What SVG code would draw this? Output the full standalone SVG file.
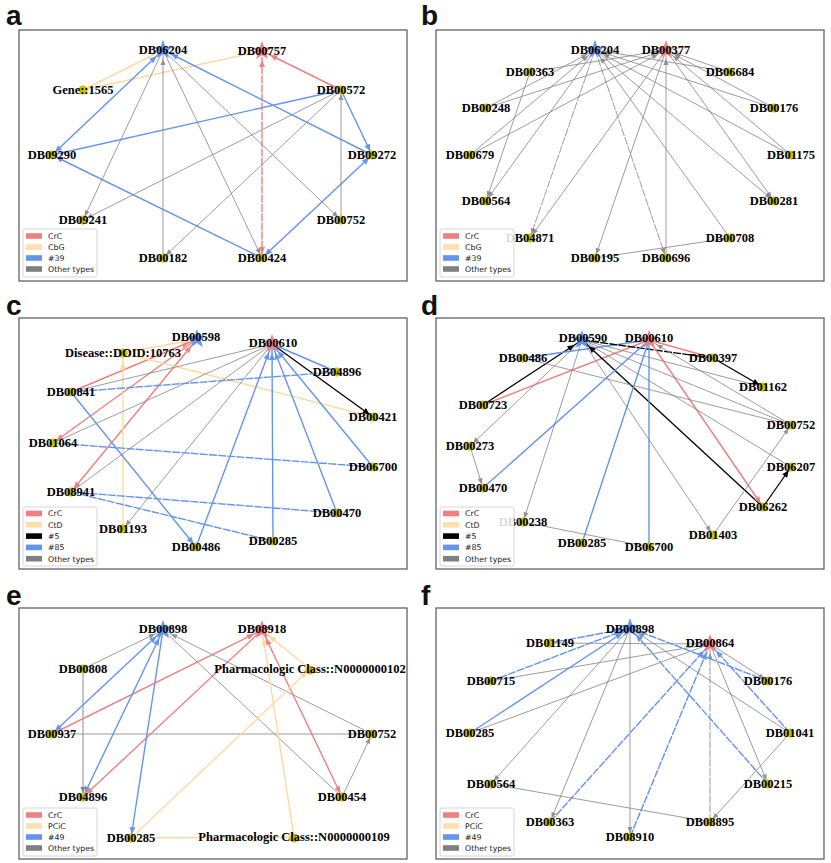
<svg xmlns="http://www.w3.org/2000/svg" width="831" height="863" viewBox="0 0 831 863">
<style>
.frame{fill:#fff;stroke:#555;stroke-width:1.2}
.pl{font-family:"Liberation Sans",Arial,sans-serif;font-weight:bold;font-size:28px;fill:#111}
.lb{font-family:"Liberation Serif","Times New Roman",serif;font-weight:bold;font-size:12.5px;text-anchor:middle;fill:#000}
.lg{font-family:"DejaVu Sans",sans-serif;font-size:7.8px;fill:#222}
.lgbox{fill:#fff;fill-opacity:0.85;stroke:#ccc;stroke-width:0.8}
.dot{fill:#c9c200}
.g{stroke:#808080;stroke-width:0.9;opacity:0.85}
.gl{stroke:#b8b8b8;stroke-width:1.6}
.r{stroke:#f08080;stroke-width:1.4}
.o{stroke:#ffd9a3;stroke-width:1.4}
.b{stroke:#6495ed;stroke-width:1.4}
.k{stroke:#000;stroke-width:1.3}
.dash{stroke-dasharray:8 1.2}
</style>
<defs>
<path id="star" d="M0,-10L2.35,-3.24L9.51,-3.09L3.8,1.24L5.88,8.09L0,4L-5.88,8.09L-3.8,1.24L-9.51,-3.09L-2.35,-3.24Z"/>
<marker id="gd" markerUnits="userSpaceOnUse" markerWidth="20" markerHeight="10" refX="10" refY="2.5" orient="auto-start-reverse" overflow="visible"><path d="M0,0L6,2.5L0,5z" fill="#808080"/></marker>
<marker id="gs" markerUnits="userSpaceOnUse" markerWidth="20" markerHeight="10" refX="15" refY="2.5" orient="auto-start-reverse" overflow="visible"><path d="M0,0L6,2.5L0,5z" fill="#808080"/></marker>
<marker id="rd" markerUnits="userSpaceOnUse" markerWidth="20" markerHeight="10" refX="11" refY="3" orient="auto-start-reverse" overflow="visible"><path d="M0,0L7,3L0,6z" fill="#f08080"/></marker>
<marker id="rs" markerUnits="userSpaceOnUse" markerWidth="20" markerHeight="10" refX="16" refY="3" orient="auto-start-reverse" overflow="visible"><path d="M0,0L7,3L0,6z" fill="#f08080"/></marker>
<marker id="bd" markerUnits="userSpaceOnUse" markerWidth="20" markerHeight="10" refX="11" refY="3" orient="auto-start-reverse" overflow="visible"><path d="M0,0L7,3L0,6z" fill="#6495ed"/></marker>
<marker id="bs" markerUnits="userSpaceOnUse" markerWidth="20" markerHeight="10" refX="16" refY="3" orient="auto-start-reverse" overflow="visible"><path d="M0,0L7,3L0,6z" fill="#6495ed"/></marker>
<marker id="od" markerUnits="userSpaceOnUse" markerWidth="20" markerHeight="10" refX="11" refY="3" orient="auto-start-reverse" overflow="visible"><path d="M0,0L7,3L0,6z" fill="#ffd9a3"/></marker>
<marker id="os" markerUnits="userSpaceOnUse" markerWidth="20" markerHeight="10" refX="16" refY="3" orient="auto-start-reverse" overflow="visible"><path d="M0,0L7,3L0,6z" fill="#ffd9a3"/></marker>
<marker id="kd" markerUnits="userSpaceOnUse" markerWidth="20" markerHeight="10" refX="11" refY="3" orient="auto-start-reverse" overflow="visible"><path d="M0,0L7,3L0,6z" fill="#000"/></marker>
<marker id="ks" markerUnits="userSpaceOnUse" markerWidth="20" markerHeight="10" refX="16" refY="3" orient="auto-start-reverse" overflow="visible"><path d="M0,0L7,3L0,6z" fill="#000"/></marker>
</defs>

<g id="panel-labels">
<text class="pl" x="6" y="25">a</text>
<text class="pl" x="421" y="25">b</text>
<text class="pl" x="6" y="315">c</text>
<text class="pl" x="421" y="315">d</text>
<text class="pl" x="6" y="605">e</text>
<text class="pl" x="421" y="605">f</text>
</g>

<g id="frames">
<rect class="frame" x="19" y="30" width="388" height="251"/>
<rect class="frame" x="436" y="30" width="388" height="251"/>
<rect class="frame" x="19" y="318" width="388" height="251"/>
<rect class="frame" x="436" y="318" width="388" height="251"/>
<rect class="frame" x="19" y="608" width="388" height="251"/>
<rect class="frame" x="436" y="608" width="388" height="251"/>
</g>

<g id="connectors">
<!-- panel a -->
<line class="o" x1="83" y1="90" x2="163" y2="50"/>
<line class="o" x1="83" y1="90" x2="262" y2="51"/>
<line class="r" x1="341" y1="90" x2="262" y2="51" marker-end="url(#rs)"/>
<line class="r dash" x1="262" y1="258" x2="262" y2="51" marker-start="url(#rd)" marker-end="url(#rs)"/>
<line class="b" x1="341" y1="90" x2="372" y2="155" marker-end="url(#bd)"/>
<line class="b" x1="372" y1="155" x2="163" y2="50" marker-end="url(#bs)"/>
<line class="b" x1="52" y1="155" x2="163" y2="50" marker-start="url(#bd)" marker-end="url(#bs)"/>
<line class="b" x1="52" y1="155" x2="341" y2="90"/>
<line class="b" x1="262" y1="258" x2="52" y2="155" marker-end="url(#bd)"/>
<line class="b" x1="262" y1="258" x2="372" y2="155" marker-start="url(#bd)" marker-end="url(#bd)"/>
<line class="g" x1="163" y1="50" x2="83" y2="220" marker-end="url(#gd)"/>
<line class="g" x1="341" y1="90" x2="83" y2="220" marker-end="url(#gd)"/>
<line class="g" x1="163" y1="258" x2="163" y2="50" marker-end="url(#gs)"/>
<line class="g" x1="163" y1="50" x2="262" y2="258" marker-end="url(#gd)"/>
<line class="g" x1="163" y1="50" x2="341" y2="220" marker-end="url(#gd)"/>
<line class="g" x1="341" y1="90" x2="163" y2="258" marker-end="url(#gd)"/>
<line class="g" x1="341" y1="220" x2="341" y2="90" marker-end="url(#gd)"/>
<!-- panel b -->
<line class="g" x1="486" y1="108" x2="595" y2="50" marker-end="url(#gs)"/>
<line class="g" x1="486" y1="108" x2="666" y2="50" marker-end="url(#gs)"/>
<line class="g" x1="470" y1="155" x2="595" y2="50" marker-end="url(#gs)"/>
<line class="g" x1="470" y1="155" x2="666" y2="50" marker-end="url(#gs)"/>
<line class="g" x1="595" y1="50" x2="486" y2="201" marker-end="url(#gd)"/>
<line class="g" x1="530" y1="72" x2="486" y2="201" marker-end="url(#gd)"/>
<line class="g dash" x1="595" y1="50" x2="530" y2="238" marker-end="url(#gd)"/>
<line class="g" x1="666" y1="50" x2="530" y2="238" marker-end="url(#gd)"/>
<line class="g" x1="666" y1="50" x2="595" y2="258" marker-end="url(#gd)"/>
<line class="g dash" x1="595" y1="50" x2="666" y2="258" marker-end="url(#gd)"/>
<line class="g" x1="666" y1="258" x2="666" y2="50" marker-end="url(#gs)"/>
<line class="g" x1="730" y1="238" x2="595" y2="50" marker-end="url(#gs)"/>
<line class="g" x1="595" y1="258" x2="730" y2="238"/>
<line class="g" x1="595" y1="50" x2="774" y2="201" marker-end="url(#gd)"/>
<line class="g" x1="666" y1="50" x2="774" y2="201" marker-end="url(#gd)"/>
<line class="g" x1="791" y1="155" x2="595" y2="50" marker-end="url(#gs)"/>
<line class="g" x1="791" y1="155" x2="666" y2="50" marker-end="url(#gs)"/>
<line class="g" x1="774" y1="108" x2="595" y2="50" marker-end="url(#gs)"/>
<line class="g" x1="774" y1="108" x2="666" y2="50" marker-end="url(#gs)"/>
<line class="g" x1="730" y1="72" x2="595" y2="50" marker-end="url(#gs)"/>
<line class="g" x1="730" y1="72" x2="666" y2="50" marker-end="url(#gs)"/>
<line class="g" x1="530" y1="72" x2="666" y2="50" marker-end="url(#gs)"/>
<!-- panel c -->
<line class="r" x1="71" y1="392" x2="197" y2="339" marker-end="url(#rs)"/>
<line class="r" x1="197" y1="339" x2="53" y2="443" marker-end="url(#rd)"/>
<line class="r" x1="71" y1="492" x2="197" y2="339" marker-start="url(#rd)" marker-end="url(#rs)"/>
<line class="o" x1="123" y1="529" x2="123" y2="353" marker-end="url(#os)"/>
<line class="o" x1="123" y1="353" x2="197" y2="339" marker-end="url(#os)"/>
<line class="o" x1="123" y1="353" x2="373" y2="417"/>
<line class="g" x1="272" y1="344" x2="71" y2="392"/>
<line class="g" x1="272" y1="344" x2="53" y2="443"/>
<line class="g" x1="272" y1="344" x2="71" y2="492"/>
<line class="g" x1="272" y1="344" x2="123" y2="529" marker-end="url(#gd)"/>
<line class="k" x1="272" y1="344" x2="373" y2="417" marker-end="url(#kd)"/>
<line class="b" x1="272" y1="344" x2="337" y2="372"/>
<line class="b dash" x1="71" y1="392" x2="337" y2="372"/>
<line class="b" x1="71" y1="392" x2="196" y2="547" marker-end="url(#bd)"/>
<line class="b dash" x1="53" y1="443" x2="373" y2="467"/>
<line class="b dash" x1="71" y1="492" x2="337" y2="513"/>
<line class="b dash" x1="71" y1="492" x2="273" y2="541"/>
<line class="b" x1="196" y1="547" x2="272" y2="344" marker-end="url(#bs)"/>
<line class="b" x1="273" y1="541" x2="272" y2="344" marker-end="url(#bs)"/>
<line class="b" x1="337" y1="513" x2="272" y2="344" marker-end="url(#bs)"/>
<line class="b" x1="373" y1="467" x2="272" y2="344" marker-end="url(#bs)"/>
<!-- panel d -->
<line class="k" x1="483" y1="405" x2="582" y2="340" marker-end="url(#ks)"/>
<line class="r" x1="483" y1="405" x2="649" y2="340"/>
<line class="b" x1="523" y1="358" x2="649" y2="340"/>
<line class="k dash" x1="582" y1="340" x2="713" y2="358"/>
<line class="k" x1="713" y1="358" x2="763" y2="387" marker-end="url(#kd)"/>
<line class="r" x1="649" y1="340" x2="713" y2="358"/>
<line class="k" x1="763" y1="507" x2="582" y2="340" marker-end="url(#ks)"/>
<line class="k" x1="763" y1="507" x2="791" y2="467" marker-end="url(#kd)"/>
<line class="r" x1="649" y1="340" x2="763" y2="507" marker-end="url(#rd)"/>
<line class="b" x1="483" y1="488" x2="649" y2="340"/>
<line class="b" x1="582" y1="543" x2="649" y2="340"/>
<line class="b" x1="649" y1="547" x2="649" y2="340"/>
<line class="g" x1="582" y1="340" x2="470" y2="446" marker-end="url(#gd)"/>
<line class="g" x1="470" y1="446" x2="483" y2="488" marker-end="url(#gd)"/>
<line class="g" x1="582" y1="340" x2="523" y2="522" marker-end="url(#gd)"/>
<line class="g" x1="523" y1="522" x2="649" y2="547"/>
<line class="g" x1="582" y1="340" x2="713" y2="535" marker-end="url(#gd)"/>
<line class="g" x1="713" y1="535" x2="791" y2="425" marker-end="url(#gd)"/>
<line class="g" x1="523" y1="358" x2="791" y2="425"/>
<line class="g" x1="582" y1="340" x2="763" y2="387"/>
<line class="g" x1="582" y1="340" x2="791" y2="425"/>
<line class="g" x1="582" y1="340" x2="791" y2="467"/>
<line class="g" x1="791" y1="425" x2="649" y2="340" marker-end="url(#gs)"/>
<!-- panel e -->
<line class="g" x1="83" y1="669" x2="163" y2="630" marker-end="url(#gs)"/>
<line class="gl" x1="83" y1="669" x2="83" y2="797" marker-end="url(#gd)"/>
<line class="b" x1="52" y1="734" x2="163" y2="630" marker-start="url(#bd)" marker-end="url(#bs)"/>
<line class="r" x1="52" y1="734" x2="262" y2="630" marker-end="url(#rs)"/>
<line class="g" x1="52" y1="734" x2="372" y2="734"/>
<line class="b" x1="83" y1="797" x2="163" y2="630" marker-start="url(#bd)" marker-end="url(#bs)"/>
<line class="r" x1="262" y1="630" x2="83" y2="797" marker-end="url(#rd)"/>
<line class="b" x1="163" y1="630" x2="131" y2="838" marker-end="url(#bd)"/>
<line class="g" x1="163" y1="630" x2="342" y2="797"/>
<line class="g" x1="372" y1="734" x2="163" y2="630" marker-end="url(#gs)"/>
<line class="r" x1="342" y1="797" x2="262" y2="630" marker-start="url(#rd)" marker-end="url(#rs)"/>
<line class="g" x1="342" y1="797" x2="372" y2="734" marker-end="url(#gd)"/>
<line class="o" x1="310" y1="669" x2="262" y2="630" marker-end="url(#os)"/>
<line class="o" x1="131" y1="838" x2="310" y2="669" marker-end="url(#od)"/>
<line class="o" x1="294" y1="837" x2="262" y2="630" marker-end="url(#os)"/>
<line class="o" x1="131" y1="838" x2="294" y2="837"/>
<!-- panel f -->
<line class="b dash" x1="550" y1="643" x2="630" y2="628" marker-end="url(#bs)"/>
<line class="g" x1="550" y1="643" x2="710" y2="644"/>
<line class="b dash" x1="491" y1="681" x2="630" y2="628" marker-end="url(#bs)"/>
<line class="g" x1="491" y1="681" x2="710" y2="644"/>
<line class="b" x1="470" y1="733" x2="630" y2="628" marker-end="url(#bs)"/>
<line class="g" x1="470" y1="733" x2="710" y2="644"/>
<line class="g" x1="630" y1="628" x2="491" y2="784" marker-end="url(#gd)"/>
<line class="g" x1="630" y1="628" x2="550" y2="822" marker-end="url(#gd)"/>
<line class="g" x1="630" y1="628" x2="630" y2="837" marker-end="url(#gd)"/>
<line class="b dash" x1="550" y1="822" x2="710" y2="644" marker-end="url(#bs)"/>
<line class="b dash" x1="630" y1="837" x2="710" y2="644" marker-end="url(#bs)"/>
<line class="g dash" x1="710" y1="822" x2="710" y2="644" marker-end="url(#gs)"/>
<line class="g" x1="710" y1="644" x2="768" y2="784" marker-end="url(#gd)"/>
<line class="b dash" x1="768" y1="784" x2="630" y2="628" marker-end="url(#bs)"/>
<line class="g" x1="790" y1="733" x2="630" y2="628" marker-end="url(#gs)"/>
<line class="b dash" x1="790" y1="733" x2="710" y2="644" marker-end="url(#bs)"/>
<line class="g" x1="790" y1="733" x2="710" y2="822" marker-end="url(#gd)"/>
<line class="g" x1="710" y1="644" x2="768" y2="681" marker-end="url(#gd)"/>
<line class="b dash" x1="768" y1="681" x2="630" y2="628" marker-end="url(#bs)"/>
<line class="g" x1="491" y1="784" x2="710" y2="822"/>
</g>

<!-- panel a nodes -->
<g id="a-DB06204"><use href="#star" x="163" y="50" fill="#6495ed"/><text class="lb" x="163" y="54.3">DB06204</text></g>
<g id="a-DB00757"><use href="#star" x="262" y="51" fill="#f08080"/><text class="lb" x="262" y="55.3">DB00757</text></g>
<g id="a-Gene1565"><circle class="dot" cx="83" cy="90" r="4.5"/><text class="lb" x="83" y="94.3">Gene::1565</text></g>
<g id="a-DB00572"><circle class="dot" cx="341" cy="90" r="4.5"/><text class="lb" x="341" y="94.3">DB00572</text></g>
<g id="a-DB09290"><circle class="dot" cx="52" cy="155" r="4.5"/><text class="lb" x="52" y="159.3">DB09290</text></g>
<g id="a-DB09272"><circle class="dot" cx="372" cy="155" r="4.5"/><text class="lb" x="372" y="159.3">DB09272</text></g>
<g id="a-DB09241"><circle class="dot" cx="83" cy="220" r="4.5"/><text class="lb" x="83" y="224.3">DB09241</text></g>
<g id="a-DB00752"><circle class="dot" cx="341" cy="220" r="4.5"/><text class="lb" x="341" y="224.3">DB00752</text></g>
<g id="a-DB00182"><circle class="dot" cx="163" cy="258" r="4.5"/><text class="lb" x="163" y="262.3">DB00182</text></g>
<g id="a-DB00424"><circle class="dot" cx="262" cy="258" r="4.5"/><text class="lb" x="262" y="262.3">DB00424</text></g>

<!-- panel b nodes -->
<g id="b-DB06204"><use href="#star" x="595" y="50" fill="#6495ed"/><text class="lb" x="595" y="54.3">DB06204</text></g>
<g id="b-DB00377"><use href="#star" x="666" y="50" fill="#f08080"/><text class="lb" x="666" y="54.3">DB00377</text></g>
<g id="b-DB00363"><circle class="dot" cx="530" cy="72" r="4.5"/><text class="lb" x="530" y="76.3">DB00363</text></g>
<g id="b-DB06684"><circle class="dot" cx="730" cy="72" r="4.5"/><text class="lb" x="730" y="76.3">DB06684</text></g>
<g id="b-DB00248"><circle class="dot" cx="486" cy="108" r="4.5"/><text class="lb" x="486" y="112.3">DB00248</text></g>
<g id="b-DB00176"><circle class="dot" cx="774" cy="108" r="4.5"/><text class="lb" x="774" y="112.3">DB00176</text></g>
<g id="b-DB00679"><circle class="dot" cx="470" cy="155" r="4.5"/><text class="lb" x="470" y="159.3">DB00679</text></g>
<g id="b-DB01175"><circle class="dot" cx="791" cy="155" r="4.5"/><text class="lb" x="791" y="159.3">DB01175</text></g>
<g id="b-DB00564"><circle class="dot" cx="486" cy="201" r="4.5"/><text class="lb" x="486" y="205.3">DB00564</text></g>
<g id="b-DB00281"><circle class="dot" cx="774" cy="201" r="4.5"/><text class="lb" x="774" y="205.3">DB00281</text></g>
<g id="b-DB04871"><circle class="dot" cx="530" cy="238" r="4.5"/><text class="lb" x="530" y="242.3">DB04871</text></g>
<g id="b-DB00708"><circle class="dot" cx="730" cy="238" r="4.5"/><text class="lb" x="730" y="242.3">DB00708</text></g>
<g id="b-DB00195"><circle class="dot" cx="595" cy="258" r="4.5"/><text class="lb" x="595" y="262.3">DB00195</text></g>
<g id="b-DB00696"><circle class="dot" cx="666" cy="258" r="4.5"/><text class="lb" x="666" y="262.3">DB00696</text></g>

<!-- panel c nodes -->
<g id="c-DB00598"><use href="#star" x="197" y="339" fill="#6495ed"/><text class="lb" x="196" y="340.5">DB00598</text></g>
<g id="c-DB00610"><use href="#star" x="272" y="344" fill="#f08080"/><text class="lb" x="273" y="346.5">DB00610</text></g>
<g id="c-Disease"><circle class="dot" cx="123" cy="353" r="4.5" fill="#ffe0b0"/><text class="lb" x="123" y="357.3">Disease::DOID:10763</text></g>
<g id="c-DB04896"><circle class="dot" cx="337" cy="372" r="4.5"/><text class="lb" x="337" y="376.3">DB04896</text></g>
<g id="c-DB00841"><circle class="dot" cx="71" cy="392" r="4.5"/><text class="lb" x="71" y="396.3">DB00841</text></g>
<g id="c-DB00421"><circle class="dot" cx="373" cy="417" r="4.5"/><text class="lb" x="373" y="421.3">DB00421</text></g>
<g id="c-DB01064"><circle class="dot" cx="53" cy="443" r="4.5"/><text class="lb" x="53" y="447.3">DB01064</text></g>
<g id="c-DB06700"><circle class="dot" cx="373" cy="467" r="4.5"/><text class="lb" x="373" y="471.3">DB06700</text></g>
<g id="c-DB08941"><circle class="dot" cx="71" cy="492" r="4.5"/><text class="lb" x="71" y="496.3">DB08941</text></g>
<g id="c-DB00470"><circle class="dot" cx="337" cy="513" r="4.5"/><text class="lb" x="337" y="517.3">DB00470</text></g>
<g id="c-DB01193"><circle class="dot" cx="123" cy="529" r="4.5"/><text class="lb" x="123" y="533.3">DB01193</text></g>
<g id="c-DB00285"><circle class="dot" cx="273" cy="541" r="4.5"/><text class="lb" x="273" y="545.3">DB00285</text></g>
<g id="c-DB00486"><circle class="dot" cx="196" cy="547" r="4.5"/><text class="lb" x="196" y="551.3">DB00486</text></g>

<!-- panel d nodes -->
<g id="d-DB00590"><use href="#star" x="582" y="340" fill="#6495ed"/><text class="lb" x="583" y="342.3">DB00590</text></g>
<g id="d-DB00610"><use href="#star" x="649" y="340" fill="#f08080"/><text class="lb" x="649" y="342.3">DB00610</text></g>
<g id="d-DB00486"><circle class="dot" cx="523" cy="358" r="4.5"/><text class="lb" x="523" y="362.3">DB00486</text></g>
<g id="d-DB00397"><circle class="dot" cx="713" cy="358" r="4.5"/><text class="lb" x="713" y="362.3">DB00397</text></g>
<g id="d-DB00723"><circle class="dot" cx="483" cy="405" r="4.5"/><text class="lb" x="483" y="409.3">DB00723</text></g>
<g id="d-DB01162"><circle class="dot" cx="763" cy="387" r="4.5"/><text class="lb" x="763" y="391.3">DB01162</text></g>
<g id="d-DB00273"><circle class="dot" cx="470" cy="446" r="4.5"/><text class="lb" x="470" y="450.3">DB00273</text></g>
<g id="d-DB00752"><circle class="dot" cx="791" cy="425" r="4.5"/><text class="lb" x="791" y="429.3">DB00752</text></g>
<g id="d-DB00470"><circle class="dot" cx="483" cy="488" r="4.5"/><text class="lb" x="483" y="492.3">DB00470</text></g>
<g id="d-DB06207"><circle class="dot" cx="791" cy="467" r="4.5"/><text class="lb" x="791" y="471.3">DB06207</text></g>
<g id="d-DB00238"><circle class="dot" cx="523" cy="522" r="4.5"/><text class="lb" x="523" y="526.3">DB00238</text></g>
<g id="d-DB06262"><circle class="dot" cx="763" cy="507" r="4.5"/><text class="lb" x="763" y="511.3">DB06262</text></g>
<g id="d-DB00285"><circle class="dot" cx="582" cy="543" r="4.5"/><text class="lb" x="582" y="547.3">DB00285</text></g>
<g id="d-DB01403"><circle class="dot" cx="713" cy="535" r="4.5"/><text class="lb" x="713" y="539.3">DB01403</text></g>
<g id="d-DB06700"><circle class="dot" cx="649" cy="547" r="4.5"/><text class="lb" x="649" y="551.3">DB06700</text></g>

<!-- panel e nodes -->
<g id="e-DB00898"><use href="#star" x="163" y="630" fill="#6495ed"/><text class="lb" x="163" y="633.3">DB00898</text></g>
<g id="e-DB08918"><use href="#star" x="262" y="630" fill="#f08080"/><text class="lb" x="262" y="633.3">DB08918</text></g>
<g id="e-DB00808"><circle class="dot" cx="83" cy="669" r="4.5"/><text class="lb" x="83" y="673.3">DB00808</text></g>
<g id="e-PC102"><circle class="dot" cx="310" cy="670" r="4.5" fill="#ffe0b0"/><text class="lb" x="310" y="673.3">Pharmacologic Class::N0000000102</text></g>
<g id="e-DB00937"><circle class="dot" cx="52" cy="734" r="4.5"/><text class="lb" x="52" y="738.3">DB00937</text></g>
<g id="e-DB00752"><circle class="dot" cx="372" cy="734" r="4.5"/><text class="lb" x="372" y="738.3">DB00752</text></g>
<g id="e-DB04896"><circle class="dot" cx="83" cy="797" r="4.5"/><text class="lb" x="83" y="801.3">DB04896</text></g>
<g id="e-DB00454"><circle class="dot" cx="342" cy="797" r="4.5"/><text class="lb" x="342" y="801.3">DB00454</text></g>
<g id="e-DB00285"><circle class="dot" cx="131" cy="838" r="4.5"/><text class="lb" x="131" y="842.3">DB00285</text></g>
<g id="e-PC109"><circle class="dot" cx="294" cy="838" r="4.5" fill="#ffe0b0"/><text class="lb" x="294" y="841.3">Pharmacologic Class::N0000000109</text></g>

<!-- panel f nodes -->
<g id="f-DB00898"><use href="#star" x="630" y="628" fill="#6495ed"/><text class="lb" x="630" y="633.3">DB00898</text></g>
<g id="f-DB00864"><use href="#star" x="710" y="644" fill="#f08080"/><text class="lb" x="710" y="647.3">DB00864</text></g>
<g id="f-DB01149"><circle class="dot" cx="550" cy="643" r="4.5"/><text class="lb" x="550" y="647.3">DB01149</text></g>
<g id="f-DB00715"><circle class="dot" cx="491" cy="681" r="4.5"/><text class="lb" x="491" y="685.3">DB00715</text></g>
<g id="f-DB00176"><circle class="dot" cx="768" cy="681" r="4.5"/><text class="lb" x="768" y="685.3">DB00176</text></g>
<g id="f-DB00285"><circle class="dot" cx="470" cy="733" r="4.5"/><text class="lb" x="470" y="737.3">DB00285</text></g>
<g id="f-DB01041"><circle class="dot" cx="790" cy="733" r="4.5"/><text class="lb" x="790" y="737.3">DB01041</text></g>
<g id="f-DB00564"><circle class="dot" cx="491" cy="784" r="4.5"/><text class="lb" x="491" y="788.3">DB00564</text></g>
<g id="f-DB00215"><circle class="dot" cx="768" cy="784" r="4.5"/><text class="lb" x="768" y="788.3">DB00215</text></g>
<g id="f-DB00363"><circle class="dot" cx="550" cy="822" r="4.5"/><text class="lb" x="550" y="826.3">DB00363</text></g>
<g id="f-DB08895"><circle class="dot" cx="710" cy="822" r="4.5"/><text class="lb" x="710" y="826.3">DB08895</text></g>
<g id="f-DB08910"><circle class="dot" cx="630" cy="837" r="4.5"/><text class="lb" x="630" y="841.3">DB08910</text></g>

<!-- legends -->
<g id="legend-a">
<rect class="lgbox" x="23" y="229" width="74" height="48" rx="2"/>
<rect x="26" y="233.2" width="16" height="5.6" fill="#f08080"/><text class="lg" x="48" y="238.8">CrC</text>
<rect x="26" y="244.2" width="16" height="5.6" fill="#ffdfae"/><text class="lg" x="48" y="249.8">CbG</text>
<rect x="26" y="255.2" width="16" height="5.6" fill="#6495ed"/><text class="lg" x="48" y="260.8">#39</text>
<rect x="26" y="266.2" width="16" height="5.6" fill="#808080"/><text class="lg" x="48" y="271.8">Other types</text>
</g>
<g id="legend-b">
<rect class="lgbox" x="440" y="229" width="74" height="48" rx="2"/>
<rect x="443" y="233.2" width="16" height="5.6" fill="#f08080"/><text class="lg" x="465" y="238.8">CrC</text>
<rect x="443" y="244.2" width="16" height="5.6" fill="#ffdfae"/><text class="lg" x="465" y="249.8">CbG</text>
<rect x="443" y="255.2" width="16" height="5.6" fill="#6495ed"/><text class="lg" x="465" y="260.8">#39</text>
<rect x="443" y="266.2" width="16" height="5.6" fill="#808080"/><text class="lg" x="465" y="271.8">Other types</text>
</g>
<g id="legend-c">
<rect class="lgbox" x="23" y="507" width="74" height="59" rx="2"/>
<rect x="26" y="510.7" width="16" height="5.6" fill="#f08080"/><text class="lg" x="48" y="516.3">CrC</text>
<rect x="26" y="522" width="16" height="5.6" fill="#ffdfae"/><text class="lg" x="48" y="527.6">CtD</text>
<rect x="26" y="533.3" width="16" height="5.6" fill="#000"/><text class="lg" x="48" y="538.9">#5</text>
<rect x="26" y="544.6" width="16" height="5.6" fill="#6495ed"/><text class="lg" x="48" y="550.2">#85</text>
<rect x="26" y="555.9" width="16" height="5.6" fill="#808080"/><text class="lg" x="48" y="561.5">Other types</text>
</g>
<g id="legend-d">
<rect class="lgbox" x="440" y="507" width="74" height="59" rx="2"/>
<rect x="443" y="510.7" width="16" height="5.6" fill="#f08080"/><text class="lg" x="465" y="516.3">CrC</text>
<rect x="443" y="522" width="16" height="5.6" fill="#ffdfae"/><text class="lg" x="465" y="527.6">CtD</text>
<rect x="443" y="533.3" width="16" height="5.6" fill="#000"/><text class="lg" x="465" y="538.9">#5</text>
<rect x="443" y="544.6" width="16" height="5.6" fill="#6495ed"/><text class="lg" x="465" y="550.2">#85</text>
<rect x="443" y="555.9" width="16" height="5.6" fill="#808080"/><text class="lg" x="465" y="561.5">Other types</text>
</g>
<g id="legend-e">
<rect class="lgbox" x="23" y="808" width="74" height="48" rx="2"/>
<rect x="26" y="812.2" width="16" height="5.6" fill="#f08080"/><text class="lg" x="48" y="817.8">CrC</text>
<rect x="26" y="823.2" width="16" height="5.6" fill="#ffdfae"/><text class="lg" x="48" y="828.8">PCiC</text>
<rect x="26" y="834.2" width="16" height="5.6" fill="#6495ed"/><text class="lg" x="48" y="839.8">#49</text>
<rect x="26" y="845.2" width="16" height="5.6" fill="#808080"/><text class="lg" x="48" y="850.8">Other types</text>
</g>
<g id="legend-f">
<rect class="lgbox" x="440" y="808" width="74" height="48" rx="2"/>
<rect x="443" y="812.2" width="16" height="5.6" fill="#f08080"/><text class="lg" x="465" y="817.8">CrC</text>
<rect x="443" y="823.2" width="16" height="5.6" fill="#ffdfae"/><text class="lg" x="465" y="828.8">PCiC</text>
<rect x="443" y="834.2" width="16" height="5.6" fill="#6495ed"/><text class="lg" x="465" y="839.8">#49</text>
<rect x="443" y="845.2" width="16" height="5.6" fill="#808080"/><text class="lg" x="465" y="850.8">Other types</text>
</g>
</svg>
